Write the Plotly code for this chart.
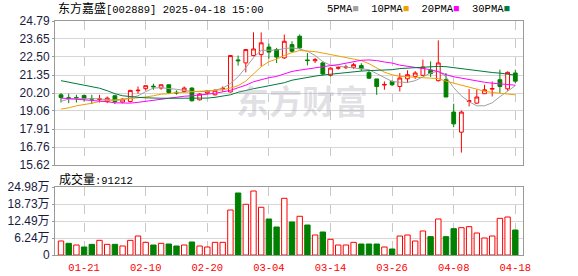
import plotly.graph_objects as go

# ---------------- data ----------------
dates = ["01-16","01-17","01-20","01-21","01-22","01-23","01-24","01-27",
         "02-05","02-06","02-07","02-10","02-11","02-12","02-13","02-14",
         "02-17","02-18","02-19","02-20","02-21","02-24","02-25","02-26",
         "02-27","02-28","03-03","03-04","03-05","03-06","03-07","03-10",
         "03-11","03-12","03-13","03-14","03-17","03-18","03-19","03-20",
         "03-21","03-24","03-25","03-26","03-27","03-28","03-31","04-01",
         "04-02","04-03","04-07","04-08","04-09","04-10","04-11","04-14",
         "04-15","04-16","04-17","04-18"]

opens  = [20.09,19.90,19.91,20.05,19.85,19.80,19.66,20.03,19.63,19.66,20.35,20.48,20.64,20.52,20.73,20.25,
          20.30,20.52,19.77,20.20,20.09,20.47,20.27,22.31,22.12,22.59,22.65,23.13,22.97,22.44,23.29,23.82,
          22.31,22.26,22.12,21.33,21.78,21.82,21.84,21.95,21.50,21.10,20.71,20.94,20.62,21.11,21.26,21.33,
          21.65,20.99,21.05,18.99,17.71,19.66,19.56,20.16,20.45,21.05,20.47,21.48]
highs  = [20.20,20.16,20.09,20.09,20.09,20.09,19.98,20.09,19.86,20.41,20.62,20.67,20.80,20.74,20.74,20.37,
          20.62,20.56,20.19,20.40,20.44,20.62,22.62,22.59,23.01,24.07,24.06,23.35,23.08,23.93,23.50,23.93,
          22.76,22.44,22.22,21.84,21.90,22.01,22.12,22.10,21.60,21.10,20.94,21.00,21.48,21.65,21.60,22.33,
          22.22,23.56,21.48,19.52,19.09,20.46,20.41,20.73,20.94,21.69,21.58,21.69]
lows   = [19.60,19.56,19.60,19.67,19.50,19.60,19.56,19.50,19.55,19.60,20.16,20.35,20.41,20.41,20.14,20.10,
          20.24,19.66,19.73,20.12,20.05,20.30,20.24,21.95,21.52,22.54,21.90,22.39,22.12,22.38,22.76,23.01,
          21.96,22.12,21.31,21.26,21.69,21.73,21.73,21.60,21.10,20.09,20.41,20.64,20.30,20.84,21.10,21.31,
          21.23,20.94,19.95,18.03,16.41,19.35,19.52,20.14,19.98,20.20,20.35,20.84]
closes = [19.92,19.87,19.89,19.84,19.82,19.83,19.88,19.66,19.82,20.37,20.38,20.67,20.60,20.73,20.24,20.21,
          20.52,19.71,20.14,20.33,20.38,20.50,22.59,22.26,22.97,23.01,23.40,22.81,22.49,23.50,22.86,23.08,
          22.27,22.33,21.42,21.79,21.82,21.85,22.01,21.75,21.15,20.62,20.75,20.73,21.16,21.37,21.48,21.86,
          21.44,22.12,19.95,18.24,18.99,19.72,19.95,20.41,20.49,20.62,21.52,20.96]

ma5  = [19.67,19.82,19.84,19.84,19.84,19.84,19.77,19.73,19.77,19.88,20.03,20.29,20.52,20.54,20.51,20.44,
        20.38,20.30,20.30,20.30,20.38,20.51,20.80,21.24,21.82,22.46,22.92,22.92,22.94,23.03,23.08,23.00,
        22.87,22.59,22.20,21.98,21.90,21.85,21.80,21.75,21.69,21.44,21.18,20.94,20.89,20.88,20.99,21.24,
        21.48,21.60,21.24,20.54,20.03,19.65,19.39,19.39,19.58,19.97,20.30,20.67]
ma10 = [19.18,19.26,19.39,19.45,19.55,19.67,19.71,19.77,19.81,19.84,19.87,19.95,20.03,20.13,20.16,20.24,
        20.25,20.29,20.30,20.34,20.37,20.41,20.52,20.67,20.96,21.44,21.88,22.20,22.36,22.59,22.78,22.91,
        22.89,22.84,22.75,22.65,22.55,22.46,22.36,22.27,22.07,21.82,21.53,21.37,21.26,21.24,21.22,21.19,
        21.16,21.12,20.96,20.83,20.67,20.54,20.41,20.32,20.24,20.19,20.14,20.09]
ma20 = [19.88,19.86,19.81,19.77,19.74,19.71,19.65,19.58,19.56,19.56,19.61,19.68,19.74,19.81,19.87,19.95,
        20.00,20.03,20.06,20.13,20.19,20.27,20.37,20.54,20.70,20.92,21.05,21.18,21.26,21.40,21.58,21.66,
        21.74,21.79,21.88,21.95,22.01,22.11,22.23,22.29,22.31,22.27,22.18,22.11,21.98,21.91,21.85,21.80,
        21.69,21.56,21.37,21.24,21.15,21.05,20.96,20.89,20.83,20.78,20.73,20.70]
ma30 = [20.99,20.89,20.80,20.70,20.60,20.51,20.35,20.16,20.03,19.97,19.93,19.90,19.87,19.87,19.87,19.87,
        19.87,19.86,19.87,19.88,19.93,20.01,20.09,20.25,20.38,20.48,20.57,20.67,20.73,20.86,21.02,21.12,
        21.22,21.28,21.35,21.40,21.47,21.51,21.58,21.60,21.63,21.64,21.66,21.69,21.76,21.79,21.82,21.85,
        21.88,21.90,21.88,21.82,21.76,21.66,21.60,21.56,21.51,21.47,21.40,21.34]

# volume in 万 (10k lots)
volumes = [5.14,4.29,3.67,2.94,3.92,5.39,3.92,3.92,3.31,5.39,6.98,4.65,3.67,4.29,4.04,3.31,
           3.67,4.78,3.31,2.94,4.65,4.65,16.53,22.78,18.62,23.51,17.52,13.23,10.29,20.83,12.12,14.22,
           11.02,7.35,8.45,5.76,3.67,3.67,4.65,4.04,4.04,4.04,2.94,2.20,6.98,7.35,5.14,8.82,
           6.74,13.23,6.74,9.67,10.04,10.41,8.08,6.25,6.98,13.47,13.96,9.18]
vol_up = [1,0,1,0,0,1,1,0,1,1,1,1,0,1,0,0,
          1,0,1,1,1,1,1,0,1,1,1,0,0,1,0,1,
          0,1,0,1,1,1,1,0,0,0,1,0,1,1,1,1,
          0,1,0,0,1,1,1,1,1,1,1,0]

price_ticks = [15.62, 16.76, 17.91, 19.06, 20.20, 21.35, 22.50, 23.65, 24.79]
vol_ticks = [0, 6.24, 12.49, 18.73, 24.98]
vol_tick_text = ["0", "6.24万", "12.49万", "18.73万", "24.98万"]
x_tick_labels = ["01-21", "02-10", "02-20", "03-04", "03-14", "03-26", "04-08", "04-18"]
title_name = "东方嘉盛"
title_rest = "[002889] 2025-04-18 15:00"
last_volume = "91212"
ma_names = ["5PMA", "10PMA", "20PMA", "30PMA"]
ma_colors = ["#A0A0A0", "#F0A000", "#FF00FF", "#007A3D"]

# ---------------- layout geometry ----------------
W, H = 578, 276
ML, MR, MT, MB = 55, 55, 21, 21
PW, PH = W - ML - MR, H - MT - MB
price_top, price_bot = 21, 165
vol_top, vol_bot = 187, 255


def fy(py):
    return (H - MB - py) / PH


def fx(px):
    return (px - ML) / PW


RED = "#FF0000"
GREEN = "#008000"
GRID = "#D6D6D6"
FRAME = "#9A9A9A"
MONO = "Liberation Mono, DejaVu Sans Mono, monospace"
CJK = "Noto Sans CJK SC"

fig = go.Figure()

fig.add_trace(go.Candlestick(
    x=dates, open=opens, high=highs, low=lows, close=closes,
    increasing=dict(line=dict(color=RED, width=1), fillcolor="#FFFFFF"),
    decreasing=dict(line=dict(color=GREEN, width=1), fillcolor=GREEN),
    whiskerwidth=0, hoverinfo="skip", showlegend=False,
    xaxis="x", yaxis="y"))

for name, vals, col in zip(ma_names, [ma5, ma10, ma20, ma30], ma_colors):
    fig.add_trace(go.Scatter(
        x=dates, y=vals, mode="lines", name=name,
        line=dict(color=col, width=1), hoverinfo="skip", showlegend=False,
        xaxis="x", yaxis="y"))

fig.add_trace(go.Bar(
    x=dates, y=volumes, width=0.7,
    marker=dict(color=["#FFFFFF" if u else GREEN for u in vol_up],
                line=dict(color=[RED if u else GREEN for u in vol_up], width=1)),
    hoverinfo="skip", showlegend=False, xaxis="x2", yaxis="y2"))

xr = [-0.78, 60.0]
common_x = dict(type="category", range=xr, tickvals=x_tick_labels, ticktext=x_tick_labels,
                showgrid=True, gridcolor="#C8C8C8", griddash="dash", gridwidth=1,
                showline=True, linecolor=FRAME, linewidth=1, mirror=True,
                ticks="", zeroline=False, fixedrange=True, automargin=False)

fig.update_layout(
    width=W, height=H,
    margin=dict(l=ML, r=MR, t=MT, b=MB, pad=0, autoexpand=False),
    paper_bgcolor="#FFFFFF", plot_bgcolor="#FFFFFF",
    showlegend=False,
    xaxis=dict(**common_x, domain=[0, 1], anchor="y", showticklabels=False,
               rangeslider=dict(visible=False)),
    yaxis=dict(domain=[fy(price_bot), fy(price_top)], range=[15.62, 24.79],
               tickvals=price_ticks, ticktext=["%.2f" % v for v in price_ticks],
               showgrid=True, gridcolor=GRID, gridwidth=1,
               showline=True, linecolor=FRAME, mirror=True, zeroline=False,
               ticks="outside", ticklen=2, tickcolor=FRAME, automargin=False,
               tickfont=dict(family="Liberation Sans, Arial", size=12, color="#1A1A40"),
               fixedrange=True),
    xaxis2=dict(**common_x, domain=[0, 1], anchor="y2", showticklabels=True,
                ticklabelstandoff=2,
                tickfont=dict(family=MONO, size=10.5, color=RED)),
    yaxis2=dict(domain=[fy(vol_bot), fy(vol_top)], range=[0, 24.98],
                tickvals=vol_ticks, ticktext=vol_tick_text,
                showgrid=True, gridcolor=GRID, gridwidth=1,
                showline=True, linecolor=FRAME, mirror=True, zeroline=False,
                ticks="outside", ticklen=2, tickcolor=FRAME, automargin=False,
                tickfont=dict(family="Liberation Sans, Arial, " + CJK, size=12, color="#1A1A40"),
                fixedrange=True),
    bargap=0.3,
)


def cjk(s):
    return '<span style="font-family:%s;font-size:12px">%s</span>' % (CJK, s)


annotations = []
# title
annotations.append(dict(
    xref="paper", yref="paper", x=fx(56), y=fy(8), xanchor="left", yanchor="middle",
    text=cjk(title_name) + title_rest, showarrow=False,
    font=dict(family=MONO, size=10.5, color="#000000")))
# MA legend
leg = "  ".join('%s<span style="color:%s">■</span>' % (n, c) for n, c in zip(ma_names, ma_colors))
annotations.append(dict(
    xref="paper", yref="paper", x=fx(512), y=fy(9), xanchor="right", yanchor="middle",
    text=leg, showarrow=False, font=dict(family=MONO, size=10.5, color="#000000")))
# volume label
annotations.append(dict(
    xref="paper", yref="paper", x=fx(57), y=fy(178), xanchor="left", yanchor="middle",
    text=cjk("成交量") + ":" + last_volume, showarrow=False,
    font=dict(family=MONO, size=10.5, color="#000000")))
# watermark
annotations.append(dict(
    xref="paper", yref="paper", x=fx(302), y=fy(100), xanchor="center", yanchor="middle",
    text="<b>东方财富</b>", showarrow=False,
    font=dict(family=CJK, size=33, color="rgba(170,170,180,0.35)")))
fig.update_layout(annotations=annotations)

fig.write_html("out.html", config={"displayModeBar": False})
